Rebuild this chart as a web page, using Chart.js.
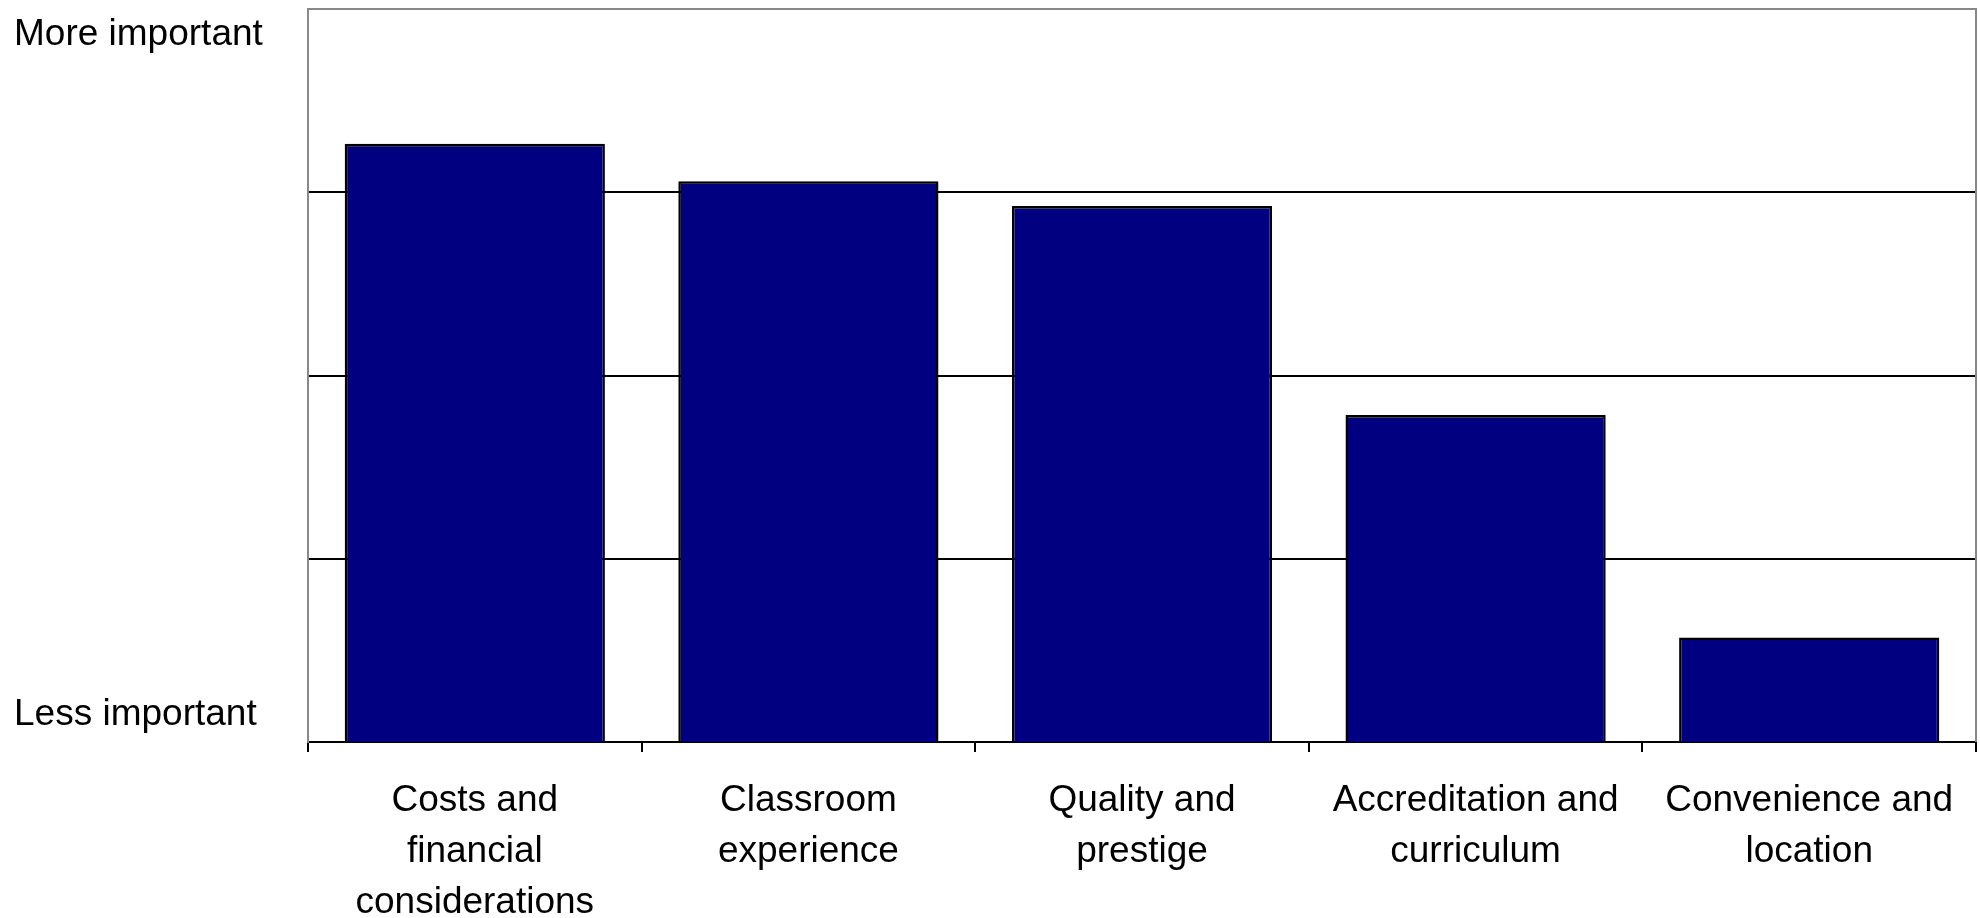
<!DOCTYPE html>
<html>
<head>
<meta charset="utf-8">
<script src="https://cdn.jsdelivr.net/npm/chart.js@4/dist/chart.umd.min.js"></script>
<style>
  html, body { margin: 0; padding: 0; background: #ffffff; }
  #wrap { width: 1980px; height: 918px; position: relative; }
</style>
</head>
<body>
<div id="wrap"><canvas id="chart"></canvas></div>
<script>
// Factors in choosing a program, ranked by relative importance
const CATEGORIES = [
  ["Costs and", "financial", "considerations"],
  ["Classroom", "experience"],
  ["Quality and", "prestige"],
  ["Accreditation and", "curriculum"],
  ["Convenience and", "location"]
];
const IMPORTANCE = [3.265, 3.06, 2.925, 1.785, 0.57];

// Value scale 0..4, horizontal rules at the whole steps in between
const SCALE_MIN = 0;
const SCALE_MAX = 4;
const RULE_VALUES = [1, 2, 3];

// Verbal ends of the scale and where they sit on it
const END_LABELS = ["Less important", "More important"];
const END_LABEL_VALUES = [0.15, 3.86];

const FONT_FAMILY = "'Liberation Sans', Arial, sans-serif";
const FONT_SIZE = 37;

// Grey frame on the top and right of the plot area
const frame = {
  id: 'frame',
  afterDatasetsDraw(chart) {
    const { ctx, chartArea: a } = chart;
    ctx.save();
    ctx.strokeStyle = '#888888';
    ctx.lineWidth = 2;
    ctx.beginPath();
    ctx.moveTo(a.left, a.top);
    ctx.lineTo(a.right, a.top);
    ctx.lineTo(a.right, a.bottom);
    ctx.stroke();
    ctx.restore();
  }
};

new Chart(document.getElementById('chart'), {
  type: 'bar',
  data: {
    labels: CATEGORIES,
    datasets: [{
      data: IMPORTANCE,
      backgroundColor: '#000080',
      borderColor: '#000000',
      borderWidth: 2.5,
      barPercentage: 0.78,
      categoryPercentage: 1.0
    }]
  },
  options: {
    responsive: true,
    maintainAspectRatio: false,
    animation: false,
    layout: { padding: { top: 9, right: 4, left: 14, bottom: 0 } },
    plugins: { legend: { display: false }, tooltip: { enabled: false } },
    scales: {
      x: {
        grid: {
          offset: true,
          drawOnChartArea: false,
          drawTicks: true,
          tickLength: 10,
          color: '#000000',
          lineWidth: 2
        },
        border: { display: true, color: '#000000', width: 2 },
        ticks: {
          color: '#000000',
          font: { family: FONT_FAMILY, size: FONT_SIZE, lineHeight: 1.38 },
          padding: 23,
          maxRotation: 0,
          autoSkip: false
        },
        afterFit(scale) { scale.height = 176; }
      },
      y: {
        min: SCALE_MIN,
        max: SCALE_MAX,
        afterBuildTicks(scale) {
          const vals = [SCALE_MIN, ...RULE_VALUES, SCALE_MAX, ...END_LABEL_VALUES]
            .sort((a, b) => a - b);
          scale.ticks = vals.map(v => ({ value: v }));
        },
        afterFit(scale) {
          scale.width = 294;
          scale.paddingTop = 0;
          scale.paddingBottom = 0;
        },
        grid: {
          drawTicks: false,
          lineWidth: 2,
          color: (ctx) => (ctx.tick && RULE_VALUES.includes(ctx.tick.value))
            ? '#000000' : 'rgba(0,0,0,0)'
        },
        border: { display: true, color: '#888888', width: 2 },
        ticks: {
          color: '#000000',
          font: { family: FONT_FAMILY, size: FONT_SIZE, lineHeight: 0.4 },
          crossAlign: 'far',
          padding: 0,
          callback(value) {
            const i = END_LABEL_VALUES.indexOf(value);
            return i >= 0 ? END_LABELS[i] : '';
          }
        }
      }
    }
  },
  plugins: [frame]
});
</script>
</body>
</html>
